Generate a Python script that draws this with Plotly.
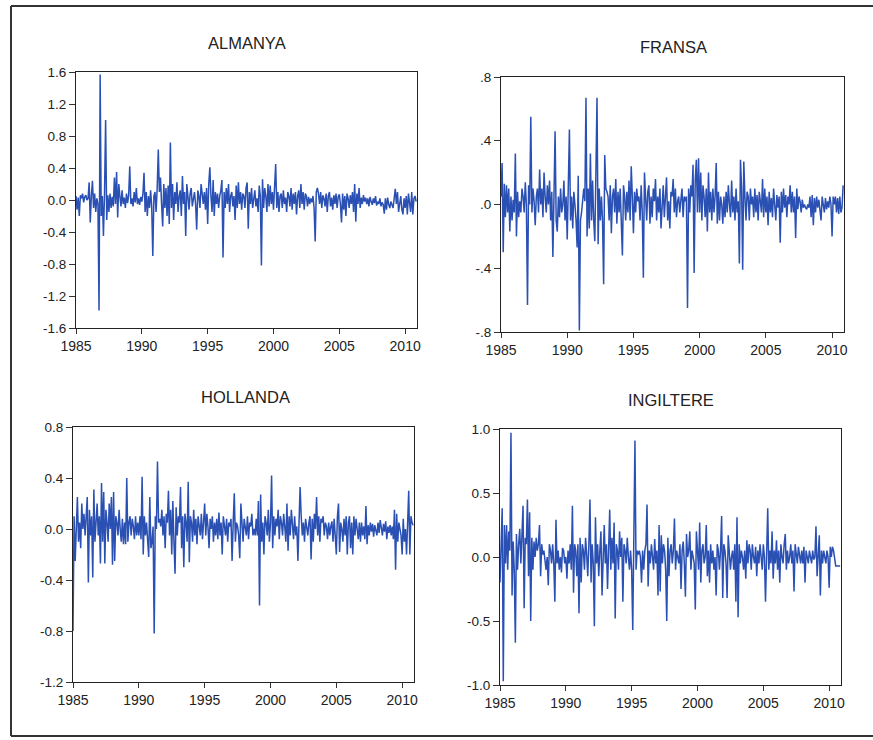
import plotly.graph_objects as go

start_year = 1985

almanya = [
    0.05, -0.12, 0.03, -0.2, 0.06, 0.02, 0.08, -0.03, 0.04, 0.06, 0.0, 0.02,
    0.22, -0.28, 0.05, 0.24, -0.1, 0.08, -0.15, 0.02, -0.05, -1.38, 1.57, -0.2,
    0.05, -0.45, 0.08, 1.0, -0.25, 0.06, -0.15, 0.08, -0.1, 0.04, -0.08, 0.28,
    -0.05, 0.35, -0.22, 0.2, 0.05, -0.08, 0.12, -0.05, 0.03, -0.1, 0.08, -0.04,
    0.06, 0.42, -0.05, 0.02, -0.08, 0.1, -0.03, 0.15, -0.05, 0.02, -0.06, 0.04,
    -0.02, 0.08, 0.34, -0.15, 0.1, -0.2, 0.05, -0.1, 0.12, -0.08, -0.7, 0.05,
    0.1, -0.15, 0.15, 0.63, 0.1, 0.28, -0.05, -0.33, 0.2, -0.1, 0.15, -0.2,
    0.18, -0.3, 0.72, -0.1, 0.2, -0.25, 0.1, -0.05, 0.22, -0.15, 0.05, 0.12,
    -0.2, 0.3, -0.05, 0.1, -0.45, 0.2, 0.05, -0.12, 0.08, 0.15, -0.08, 0.05,
    0.1, -0.05, -0.37, 0.12, 0.05, -0.1, 0.2, 0.08, -0.05, 0.1, -0.12, 0.15,
    -0.3, 0.2, 0.41, 0.05, -0.15, 0.25, -0.2, 0.1, -0.05, 0.08, -0.1, 0.05,
    0.12, 0.25, -0.72, 0.1, -0.1, 0.15, -0.05, 0.2, -0.15, 0.05, 0.1, -0.08,
    0.05, -0.25, 0.18, -0.1, 0.22, -0.05, 0.1, -0.12, 0.08, 0.05, -0.1, 0.15,
    0.22, -0.36, 0.1, -0.05, 0.15, -0.1, 0.05, 0.12, -0.08, 0.02, -0.15, 0.18,
    0.05, -0.82, 0.26, -0.1, 0.15, 0.05, -0.15, 0.2, -0.08, 0.18, -0.05, 0.1,
    -0.12, 0.18, 0.45, -0.1, 0.1, -0.15, 0.05, 0.08, -0.1, 0.12, -0.05, 0.03,
    -0.15, 0.1, 0.05, -0.08, 0.15, -0.12, 0.08, -0.05, 0.1, -0.18, 0.05, 0.12,
    -0.1, 0.2, -0.05, 0.1, -0.12, 0.08, 0.05, -0.08, 0.04, -0.05, 0.02, -0.03,
    0.05, -0.1, -0.52, 0.1, 0.15, 0.08, -0.05, 0.1, -0.1, 0.06, 0.02, -0.08,
    0.08, -0.15, 0.05, 0.1, -0.08, 0.03, -0.12, 0.06, -0.05, 0.08, -0.1, 0.04,
    0.07, -0.05, -0.28, 0.08, -0.12, 0.05, -0.2, 0.08, 0.02, -0.1, 0.06, -0.05,
    0.1, -0.15, 0.2, -0.27, 0.08, -0.05, 0.15, -0.1, 0.03, -0.05, 0.06, -0.02,
    0.03, -0.05, 0.02, -0.08, 0.04, -0.02, -0.06, 0.02, -0.04, 0.05, -0.07, -0.02,
    -0.05, 0.02, -0.08, -0.03, -0.06, -0.17, 0.02, -0.12, 0.03, -0.05, -0.1, -0.02,
    -0.08, -0.1, 0.02, 0.14, -0.05, 0.1, -0.15, -0.05, 0.05, -0.12, -0.18, 0.02,
    -0.1, 0.05, -0.18, 0.08, -0.05, -0.15, 0.1, -0.18, 0.02, 0.05, -0.02,
]

fransa = [
    0.05, 0.26, -0.3, 0.13, -0.08, 0.12, -0.05, 0.1, -0.17, 0.05, -0.1, 0.03,
    -0.05, 0.32, -0.2, 0.08, -0.08, 0.02, -0.05, 0.1, 0.05, -0.05, 0.14, 0.0,
    -0.63, 0.12, 0.0, 0.55, -0.05, 0.1, 0.02, -0.13, 0.05, 0.1, -0.05, 0.22,
    0.0, 0.1, -0.08, 0.2, 0.05, -0.05, 0.12, 0.0, 0.15, -0.1, 0.08, -0.33,
    0.05, 0.46, -0.1, -0.17, 0.05, -0.08, 0.1, -0.05, 0.0, 0.15, -0.1, 0.05,
    -0.22, 0.1, 0.47, -0.1, 0.05, -0.15, 0.08, 0.0, -0.1, -0.27, 0.18, -0.79,
    -0.1, -0.05, 0.05, 0.1, 0.02, 0.67, -0.2, 0.1, -0.15, 0.32, -0.1, 0.15,
    -0.1, -0.23, 0.2, 0.67, -0.25, 0.1, -0.1, 0.05, -0.1, -0.5, 0.31, 0.1,
    0.08, 0.05, -0.1, 0.12, -0.18, 0.05, 0.1, -0.05, 0.16, -0.12, 0.08, -0.05,
    0.1, -0.08, -0.32, 0.12, 0.05, -0.1, 0.08, -0.05, 0.15, -0.1, 0.24, 0.05,
    -0.18, 0.08, -0.05, 0.1, 0.02, 0.05, -0.1, 0.12, -0.05, -0.46, 0.2, 0.05,
    -0.1, 0.08, 0.12, -0.12, 0.05, -0.08, 0.1, 0.02, 0.16, -0.1, 0.05, -0.05,
    0.1, -0.15, 0.05, 0.12, -0.08, 0.05, 0.17, -0.1, 0.02, -0.15, 0.08, 0.05,
    0.16, -0.05, 0.1, -0.08, 0.02, 0.05, -0.05, 0.03, 0.1, -0.08, 0.05, 0.02,
    0.05, -0.65, 0.1, -0.05, 0.12, 0.05, 0.25, -0.43, 0.15, 0.28, -0.05, 0.29,
    -0.05, 0.2, -0.1, 0.12, 0.05, -0.08, 0.1, -0.17, 0.2, -0.05, 0.08, -0.1,
    0.1, -0.05, 0.05, 0.26, -0.12, 0.08, -0.1, 0.05, 0.0, -0.12, 0.05, -0.08,
    0.08, -0.05, 0.12, 0.0, -0.08, 0.15, -0.05, 0.05, -0.1, 0.1, -0.05, 0.02,
    -0.37, 0.28, 0.1, -0.41, 0.27, 0.05, -0.1, 0.08, 0.05, -0.1, 0.1, 0.0,
    0.05, -0.08, 0.1, -0.05, 0.06, -0.1, 0.08, 0.02, -0.05, 0.16, -0.08, 0.1,
    -0.05, 0.05, -0.13, 0.08, -0.05, 0.04, -0.08, 0.1, 0.0, -0.1, 0.06, -0.02,
    0.05, -0.24, 0.08, -0.05, 0.1, -0.02, 0.06, -0.08, 0.05, 0.0, 0.12, -0.05,
    0.08, -0.05, 0.05, -0.21, 0.1, -0.03, 0.05, 0.02, -0.05, 0.03, -0.02, 0.0,
    -0.02, -0.03, 0.0, -0.02, 0.05, -0.08, 0.06, -0.13, 0.04, -0.05, 0.05, -0.02,
    0.03, -0.05, -0.1, 0.05, 0.0, -0.05, 0.04, -0.03, 0.02, -0.02, 0.05, 0.0,
    -0.2, 0.05, 0.0, 0.05, -0.05, 0.04, -0.06, 0.05, -0.05, -0.02, 0.12,
]

hollanda = [
    -0.8, 0.1, -0.25, 0.05, 0.25, -0.1, 0.05, -0.15, 0.2, 0.0, 0.12, -0.05,
    0.08, 0.25, -0.42, 0.15, -0.05, 0.1, -0.38, 0.31, -0.1, 0.05, 0.2, -0.05,
    0.1, -0.27, 0.36, -0.1, 0.29, -0.27, 0.15, 0.05, -0.1, 0.2, 0.0, 0.25,
    -0.28, 0.29, -0.25, 0.1, 0.05, -0.05, 0.15, 0.0, -0.1, 0.08, -0.12, 0.05,
    -0.12, 0.4, -0.1, 0.05, 0.1, -0.05, 0.08, 0.02, -0.08, 0.1, -0.05, 0.05,
    -0.05, 0.1, -0.08, 0.41, -0.2, 0.1, -0.05, 0.05, -0.1, -0.22, 0.25, -0.15,
    -0.1, 0.02, -0.82, 0.1, 0.0, 0.53, 0.05, 0.08, 0.02, 0.15, -0.05, 0.1,
    -0.15, 0.12, 0.05, 0.3, -0.05, 0.15, -0.2, 0.22, -0.1, -0.35, 0.17, -0.05,
    0.1, 0.05, 0.33, -0.15, 0.1, -0.3, 0.12, 0.05, -0.1, 0.37, -0.26, 0.1,
    0.05, -0.1, 0.15, -0.05, 0.08, -0.12, 0.1, 0.0, -0.05, 0.12, -0.08, 0.05,
    0.2, -0.05, 0.12, 0.02, -0.15, 0.08, 0.0, 0.1, -0.1, 0.05, -0.05, 0.08,
    -0.08, 0.13, -0.05, 0.05, -0.2, 0.1, 0.0, -0.05, 0.08, -0.1, 0.05, 0.02,
    0.08, -0.25, 0.05, 0.28, -0.1, 0.05, 0.02, -0.05, -0.23, 0.2, 0.05, -0.1,
    0.08, 0.0, -0.05, 0.1, -0.08, 0.05, 0.02, 0.12, -0.05, 0.0, -0.05, 0.08,
    -0.05, 0.22, -0.6, 0.27, -0.1, 0.05, -0.2, 0.1, 0.05, -0.05, 0.15, -0.1,
    0.05, 0.42, -0.15, 0.1, -0.05, 0.08, 0.02, 0.15, -0.08, 0.1, 0.05, -0.05,
    0.12, 0.02, -0.1, 0.2, -0.17, 0.1, -0.05, 0.15, 0.0, -0.08, 0.1, -0.05,
    0.02, -0.25, 0.05, 0.33, 0.1, -0.05, 0.05, -0.1, 0.08, 0.0, -0.05, 0.05,
    0.1, -0.24, 0.08, -0.1, 0.12, 0.0, 0.25, -0.05, 0.1, -0.1, 0.08, 0.05,
    0.1, -0.05, 0.05, 0.02, -0.08, 0.05, -0.05, 0.02, 0.06, -0.1, 0.08, -0.05,
    -0.2, 0.1, 0.2, -0.18, 0.05, 0.0, -0.1, 0.08, -0.05, 0.1, -0.2, 0.05,
    0.1, -0.15, 0.05, -0.2, 0.1, -0.05, 0.08, 0.0, -0.08, 0.05, -0.1, 0.05,
    -0.05, 0.02, -0.08, 0.18, -0.12, 0.03, -0.05, 0.05, -0.02, 0.04, -0.06, 0.03,
    0.0, -0.05, 0.05, -0.03, 0.07, 0.0, -0.05, 0.04, -0.02, 0.06, -0.08, 0.02,
    -0.03, 0.03, -0.05, 0.02, -0.08, 0.15, -0.32, 0.12, -0.1, 0.05, 0.0, -0.05,
    -0.2, 0.08, -0.1, 0.0, -0.2, 0.05, 0.3, -0.2, 0.1, 0.05, 0.03,
]

ingiltere = [
    -0.2, 0.05, 0.38, -0.97, 0.25, -0.05, 0.25, -0.1, 0.2, 0.05, 0.97, -0.3,
    0.12, -0.1, -0.67, 0.18, -0.1, 0.1, 0.22, -0.05, 0.2, 0.4, -0.4, 0.15,
    0.1, 0.45, -0.15, 0.35, -0.5, 0.15, -0.1, 0.12, 0.0, 0.15, 0.05, 0.1,
    0.25, -0.15, 0.1, 0.02, 0.05, -0.05, -0.1, 0.0, -0.22, 0.1, 0.05, -0.05,
    0.1, -0.05, -0.35, 0.29, -0.05, 0.05, -0.1, 0.0, -0.12, 0.07, 0.05, -0.05,
    0.0, -0.17, 0.05, -0.05, 0.1, -0.1, 0.4, -0.28, 0.1, 0.05, -0.15, 0.1,
    -0.44, 0.15, -0.2, 0.1, 0.05, -0.1, 0.15, 0.02, -0.15, 0.1, 0.45, -0.2,
    0.1, -0.05, -0.54, 0.31, -0.05, 0.1, -0.15, 0.05, 0.2, -0.3, 0.1, 0.25,
    -0.05, 0.1, -0.25, 0.05, 0.37, -0.1, 0.15, -0.05, 0.27, -0.48, 0.1, 0.05,
    -0.1, 0.2, 0.0, 0.15, -0.35, 0.1, 0.05, -0.05, 0.15, 0.0, -0.1, 0.05,
    -0.1, -0.57, 0.05, 0.91, -0.1, 0.05, 0.02, 0.05, 0.0, -0.2, 0.05, -0.1,
    0.05, 0.1, 0.41, -0.23, 0.05, -0.05, 0.1, 0.0, -0.1, 0.14, -0.05, 0.05,
    -0.3, 0.25, -0.27, 0.17, -0.05, 0.1, 0.05, -0.1, -0.5, 0.15, -0.15, 0.05,
    0.1, -0.05, 0.05, 0.3, -0.1, 0.05, 0.0, -0.05, 0.1, -0.25, 0.05, 0.12,
    -0.05, -0.31, 0.18, 0.0, 0.05, 0.2, -0.1, 0.05, 0.0, -0.05, -0.41, 0.2,
    0.05, -0.1, 0.27, -0.2, 0.05, 0.1, -0.05, 0.0, 0.25, -0.15, 0.05, -0.2,
    0.1, -0.05, 0.05, -0.1, 0.0, -0.3, 0.1, 0.05, -0.1, 0.05, 0.32, -0.32,
    0.1, 0.05, -0.05, -0.32, 0.17, 0.05, -0.1, 0.0, 0.05, -0.1, 0.1, -0.35,
    0.31, -0.47, 0.1, -0.05, 0.05, 0.0, -0.1, 0.05, -0.17, 0.13, -0.05, 0.1,
    0.05, -0.1, 0.1, 0.0, -0.05, 0.08, -0.15, 0.05, -0.05, 0.1, 0.0, -0.1,
    0.1, 0.0, -0.35, 0.05, 0.38, -0.1, 0.05, -0.05, 0.2, -0.17, 0.05, -0.05,
    0.13, -0.1, 0.05, -0.2, 0.1, 0.0, -0.05, 0.1, 0.18, -0.1, 0.05, -0.05,
    0.0, 0.1, -0.05, 0.05, -0.27, 0.1, 0.0, -0.05, 0.08, 0.0, -0.05, 0.05,
    -0.05, 0.08, -0.2, 0.05, 0.0, -0.05, 0.05, 0.0, -0.05, 0.05, -0.02, 0.0,
    0.24, -0.15, 0.05, 0.17, -0.3, 0.05, -0.05, 0.05, 0.0, -0.05, 0.05, 0.0,
    -0.24, 0.08, 0.0, 0.08, 0.05, -0.02, -0.07, -0.07, -0.07, -0.07, -0.07,
]

titles = ["ALMANYA", "FRANSA", "HOLLANDA", "INGILTERE"]
year_ticks = [1985, 1990, 1995, 2000, 2005, 2010]

y_ticks = [
    ([1.6, 1.2, 0.8, 0.4, 0.0, -0.4, -0.8, -1.2, -1.6],
     ["1.6", "1.2", "0.8", "0.4", "0.0", "-0.4", "-0.8", "-1.2", "-1.6"]),
    ([0.8, 0.4, 0.0, -0.4, -0.8], [".8", ".4", ".0", "-.4", "-.8"]),
    ([0.8, 0.4, 0.0, -0.4, -0.8, -1.2], ["0.8", "0.4", "0.0", "-0.4", "-0.8", "-1.2"]),
    ([1.0, 0.5, 0.0, -0.5, -1.0], ["1.0", "0.5", "0.0", "-0.5", "-1.0"]),
]
y_ranges = [[-1.6, 1.6], [-0.8, 0.8], [-1.2, 0.8], [-1.0, 1.0]]
series = [almanya, fransa, hollanda, ingiltere]

W, H = 873, 740
# plot boxes in pixels: left, right, top, bottom
boxes = [(76, 417, 72, 328), (501, 844, 77, 332), (73, 414, 427, 682), (500, 841, 429, 685)]
title_pos = [(247, 43), (673, 47), (245, 397), (671, 400)]

LINE = "#2a50b4"
FONT = "Liberation Sans, Arial"
fig = go.Figure()
for i, vals in enumerate(series):
    n = len(vals)
    xs = [start_year + k / 12 for k in range(n)]
    ax = "" if i == 0 else str(i + 1)
    fig.add_trace(go.Scatter(x=xs, y=vals, mode="lines",
                             line=dict(color=LINE, width=1.5),
                             xaxis="x" + ax, yaxis="y" + ax, showlegend=False,
                             hoverinfo="skip"))
    l, r, t, b = boxes[i]
    xa = dict(domain=[l / W, r / W], range=[1985, 2010.9], tickvals=year_ticks,
              ticks="outside", ticklen=5, tickcolor="#333", showgrid=False, zeroline=False,
              showline=True, linecolor="#222", linewidth=1, mirror=True, automargin=False,
              tickfont=dict(family=FONT, size=14, color="#222"),
              anchor="y" + ax, fixedrange=True)
    ya = dict(domain=[1 - b / H, 1 - t / H], range=y_ranges[i],
              tickvals=y_ticks[i][0], ticktext=y_ticks[i][1],
              ticks="outside", ticklen=6, tickcolor="#333", showgrid=False, zeroline=False,
              showline=True, linecolor="#222", linewidth=1, mirror=True, automargin=False,
              tickfont=dict(family=FONT, size=13.5, color="#222"),
              anchor="x" + ax, fixedrange=True)
    fig.update_layout(**{"xaxis" + ax: xa, "yaxis" + ax: ya})
    tx, ty = title_pos[i]
    fig.add_annotation(text=titles[i], x=tx / W, y=1 - ty / H, xref="paper", yref="paper",
                       showarrow=False, xanchor="center", yanchor="middle",
                       font=dict(family=FONT, size=16.5, color="#222"))

# outer frame lines (scanned page border)
frame = [(11 / W, 6 / H, 11 / W, 736 / H), (11 / W, 6 / H, 1.0, 6 / H), (11 / W, 736 / H, 1.0, 736 / H)]
for x0, y0, x1, y1 in frame:
    fig.add_shape(type="line", xref="paper", yref="paper", x0=x0, y0=1 - y0, x1=x1, y1=1 - y1,
                  line=dict(color="#333", width=2))

fig.update_layout(width=W, height=H, margin=dict(l=0, r=0, t=0, b=0, pad=0, autoexpand=False),
                  paper_bgcolor="white", plot_bgcolor="white")
fig.write_html("out.html")
